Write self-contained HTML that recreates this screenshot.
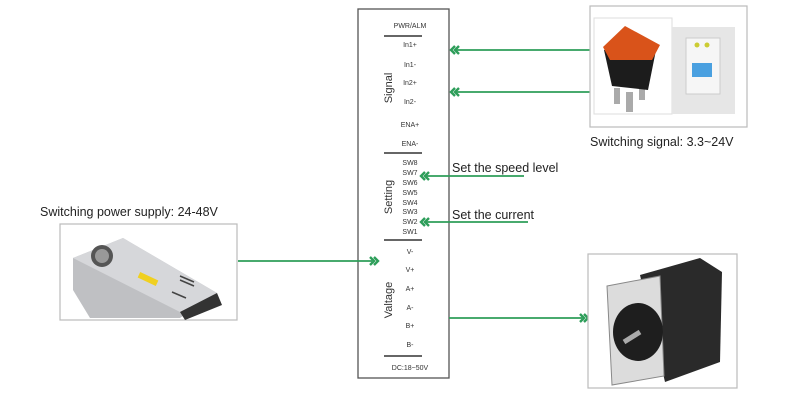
<!DOCTYPE html>
<html><head><meta charset="utf-8"><style>
body{margin:0;background:#fff;}
svg{display:block;font-family:"Liberation Sans",Arial,sans-serif;}
</style></head><body>
<svg width="800" height="400" viewBox="0 0 800 400" xmlns="http://www.w3.org/2000/svg">
<rect width="800" height="400" fill="#fff"/>
<!-- main box -->
<rect x="358" y="9" width="91" height="369" fill="#fff" stroke="#555" stroke-width="1.3"/>
<g fill="#333" font-size="7" text-anchor="middle">
<text x="410" y="28">PWR/ALM</text>
<text x="410" y="47">In1+</text><text x="410" y="67">In1-</text>
<text x="410" y="85">In2+</text><text x="410" y="104">In2-</text>
<text x="410" y="127">ENA+</text><text x="410" y="146">ENA-</text>
<text x="410" y="165">SW8</text><text x="410" y="175">SW7</text><text x="410" y="185">SW6</text>
<text x="410" y="195">SW5</text><text x="410" y="205">SW4</text><text x="410" y="214">SW3</text>
<text x="410" y="224">SW2</text><text x="410" y="234">SW1</text>
<text x="410" y="254">V-</text><text x="410" y="272">V+</text><text x="410" y="291">A+</text>
<text x="410" y="310">A-</text><text x="410" y="328">B+</text><text x="410" y="347">B-</text>
<text x="410" y="370">DC:18~50V</text>
</g>
<g stroke="#333" stroke-width="1.5">
<line x1="384" y1="36" x2="422" y2="36"/>
<line x1="384" y1="153" x2="422" y2="153"/>
<line x1="384" y1="240" x2="422" y2="240"/>
<line x1="384" y1="356" x2="422" y2="356"/>
</g>
<g fill="#333" font-size="11">
<text transform="translate(392,88) rotate(-90)" text-anchor="middle">Signal</text>
<text transform="translate(392,197) rotate(-90)" text-anchor="middle">Setting</text>
<text transform="translate(392,300) rotate(-90)" text-anchor="middle">Valtage</text>
</g>
<!-- connectors -->
<g stroke="#2e9e5a" stroke-width="1.8" fill="none">
<line x1="456" y1="50" x2="590" y2="50"/>
<line x1="456" y1="92" x2="590" y2="92"/>
<line x1="424" y1="176" x2="524" y2="176"/>
<line x1="424" y1="222" x2="528" y2="222"/>
<line x1="238" y1="261" x2="372" y2="261"/>
<line x1="449" y1="318" x2="582" y2="318"/>
</g>
<g stroke="#2e9e5a" stroke-width="2.4" fill="none">
<polyline points="455,46 451,50 455,54"/><polyline points="459,46 455,50 459,54"/>
<polyline points="455,88 451,92 455,96"/><polyline points="459,88 455,92 459,96"/>
<polyline points="425,172 421,176 425,180"/><polyline points="429,172 425,176 429,180"/>
<polyline points="425,218 421,222 425,226"/><polyline points="429,218 425,222 429,226"/>
<polyline points="370,257 374,261 370,265"/><polyline points="374,257 378,261 374,265"/>
<polyline points="580,314 584,318 580,322"/><polyline points="584,314 588,318 584,322"/>
</g>
<g fill="#222" font-size="12.5">
<text x="452" y="172">Set the speed level</text>
<text x="452" y="219">Set the current</text>
<text x="40" y="216">Switching power supply: 24-48V</text>
<text x="590" y="146">Switching signal:   3.3~24V</text>
</g>
<!-- switch box -->
<rect x="590" y="6" width="157" height="121" fill="#fff" stroke="#bbb" stroke-width="1.2"/>
<rect x="594" y="18" width="78" height="96" fill="#fff" stroke="#ddd"/>
<rect x="672" y="27" width="63" height="87" fill="#e6e6e6"/>
<rect x="614" y="88" width="6" height="16" fill="#aaa"/>
<rect x="626" y="92" width="7" height="20" fill="#aaa"/>
<rect x="639" y="88" width="6" height="12" fill="#aaa"/>
<polygon points="604,50 612,86 648,90 656,50 650,45" fill="#1c1c1c"/>
<polygon points="603,47 625,26 660,45 652,60 610,60" fill="#d9531a"/>
<rect x="686" y="38" width="34" height="56" fill="#f6f6f6" stroke="#ccc"/>
<rect x="692" y="63" width="20" height="14" fill="#4aa0e0"/>
<circle cx="697" cy="45" r="2.5" fill="#cc3"/><circle cx="707" cy="45" r="2.5" fill="#cc3"/>
<!-- power supply box -->
<rect x="60" y="224" width="177" height="96" fill="#fff" stroke="#bbb" stroke-width="1.2"/>
<polygon points="73,258 123,238 217,293 180,318 90,318 73,290" fill="#bfc0c3"/>
<polygon points="73,258 123,238 217,293 180,312" fill="#d6d7da"/>
<circle cx="102" cy="256" r="11" fill="#555"/>
<circle cx="102" cy="256" r="7" fill="#999"/>
<rect x="138" y="276" width="20" height="6" fill="#f0d020" transform="rotate(25 148 279)"/>
<g stroke="#444" stroke-width="1.5"><line x1="180" y1="276" x2="194" y2="282"/><line x1="180" y1="280" x2="194" y2="286"/><line x1="172" y1="292" x2="186" y2="298"/></g>
<polygon points="180,312 217,293 222,305 185,320" fill="#333"/>
<!-- motor box -->
<rect x="588" y="254" width="149" height="134" fill="#fff" stroke="#bbb" stroke-width="1.2"/>
<polygon points="640,275 700,258 722,272 720,362 665,382" fill="#2a2a2a"/>
<polygon points="607,286 660,276 664,376 612,385" fill="#dcdcdc" stroke="#888"/>
<ellipse cx="638" cy="332" rx="25" ry="29" fill="#1e1e1e"/>
<line x1="624" y1="342" x2="640" y2="332" stroke="#aaa" stroke-width="5"/>
</svg>
</body></html>
